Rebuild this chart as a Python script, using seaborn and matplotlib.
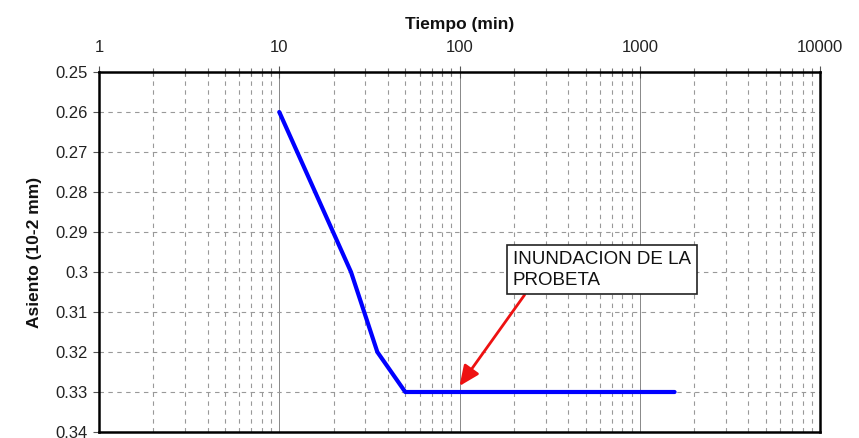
import matplotlib
matplotlib.use("Agg")
import matplotlib.pyplot as plt
from matplotlib.ticker import LogLocator, FixedLocator, NullFormatter
import seaborn as sns
import pandas as pd

# Consolidation curve: time (min) vs settlement
tiempo_min = [10, 25, 35, 50, 1560]
asiento = [0.26, 0.30, 0.32, 0.33, 0.33]
x_ticks = [1, 10, 100, 1000, 10000]
x_tick_labels = ["1", "10", "100", "1000", "10000"]
y_ticks = [0.25, 0.26, 0.27, 0.28, 0.29, 0.30, 0.31, 0.32, 0.33, 0.34]
y_tick_labels = ["0.25", "0.26", "0.27", "0.28", "0.29", "0.3", "0.31", "0.32", "0.33", "0.34"]
nota = "INUNDACION DE LA\nPROBETA"
nota_punto = (100, 0.3285)
nota_texto = (198, 0.2947)

sns.set_theme(style="white")
plt.rcParams["font.family"] = ["Liberation Sans", "DejaVu Sans"]

df = pd.DataFrame({"Tiempo": tiempo_min, "Asiento": asiento})

fig = plt.figure(figsize=(8.59, 4.38), dpi=100)
ax = fig.add_axes([0.1153, 0.0137, 0.8393, 0.8219])

sns.lineplot(data=df, x="Tiempo", y="Asiento", ax=ax, color="#0000ff",
             linewidth=3.0, sort=False, zorder=5)

ax.set_xscale("log")
ax.set_xlim(1, 10000)
ax.set_ylim(0.34, 0.25)

ax.xaxis.set_major_locator(FixedLocator(x_ticks))
ax.set_xticklabels(x_tick_labels)
ax.xaxis.set_minor_locator(LogLocator(base=10, subs=range(2, 10)))
ax.xaxis.set_minor_formatter(NullFormatter())
ax.set_yticks(y_ticks)
ax.set_yticklabels(y_tick_labels)

ax.xaxis.tick_top()
ax.xaxis.set_label_position("top")
ax.tick_params(axis="x", which="major", direction="inout", length=8, width=0.8,
               color="#555555", labelsize=12, pad=8, colors="#222222")
ax.tick_params(axis="x", which="minor", direction="inout", length=6, width=0.8,
               color="#777777", top=True)
ax.tick_params(axis="y", which="major", direction="out", length=4, width=0.8,
               color="#555555", labelsize=12, pad=4, left=True, colors="#222222")

# Grid: solid at decades, dashed at minor decades and settlement steps
ax.grid(False)
ax.grid(axis="x", which="major", color="#888888", linestyle="-", linewidth=0.7)
ax.grid(axis="x", which="minor", color="#999999", linestyle=(0, (4, 4)), linewidth=0.8)
ax.grid(axis="y", which="major", color="#999999", linestyle=(0, (4, 4)), linewidth=0.8)

for s in ax.spines.values():
    s.set_visible(True)
    s.set_color("black")
    s.set_linewidth(1.8)
    s.set_zorder(6)

ax.set_xlabel("Tiempo (min)", fontsize=12.5, fontweight="bold", labelpad=8, color="#111111")
ax.set_ylabel("Asiento (10-2 mm)", fontsize=12.5, fontweight="bold", labelpad=10, color="#111111")

ax.annotate(nota, xy=nota_punto, xytext=nota_texto, textcoords="data",
            fontsize=13.5, ha="left", va="top", color="#111111", linespacing=1.3,
            bbox=dict(boxstyle="square,pad=0.3", fc="white", ec="#222222", lw=1.2),
            arrowprops=dict(arrowstyle="-|>,head_length=0.9,head_width=0.4",
                            color="#ee1111", lw=2.0, shrinkA=0, shrinkB=0,
                            relpos=(0.09, 0.0)),
            zorder=7)

fig.savefig("out.png", dpi=100)
